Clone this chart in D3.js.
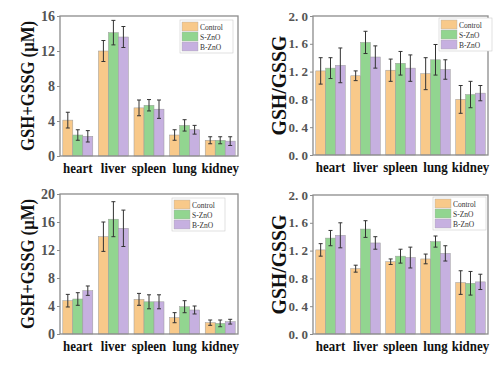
<!DOCTYPE html>
<html>
<head>
<meta charset="utf-8">
<script src="https://cdn.jsdelivr.net/npm/d3@7"></script>
<style>
  body { margin: 0; background: #fff; }
  svg { display: block; }
</style>
</head>
<body>
<div id="chart"></div>
<script>
const organs = ["heart", "liver", "spleen", "lung", "kidney"];
const groups = ["Control", "S-ZnO", "B-ZnO"];
const colors = ["#f8c98a", "#92d590", "#c6b0e0"];

// panel A: GSH+GSSG, top row
const totalA = [[4.1, 12.0, 5.5, 2.4, 1.8], [2.4, 14.1, 5.8, 3.5, 1.8], [2.25, 13.6, 5.35, 3.0, 1.7]];
const totalAErr = [[0.9, 1.2, 0.9, 0.6, 0.4], [0.6, 1.4, 0.65, 0.65, 0.4], [0.65, 1.2, 1.05, 0.5, 0.5]];
// panel B: GSH/GSSG, top row
const ratioB = [[1.21, 1.14, 1.22, 1.17, 0.80], [1.25, 1.62, 1.32, 1.37, 0.87], [1.29, 1.41, 1.25, 1.23, 0.89]];
const ratioBErr = [[0.19, 0.07, 0.16, 0.23, 0.20], [0.15, 0.16, 0.17, 0.22, 0.19], [0.25, 0.16, 0.19, 0.14, 0.11]];
// panel C: GSH+GSSG, bottom row
const totalC = [[4.76, 13.9, 4.95, 2.33, 1.62], [5.0, 16.4, 4.6, 3.9, 1.52], [6.19, 15.1, 4.6, 3.43, 1.76]];
const totalCErr = [[0.9, 2.1, 0.85, 0.72, 0.38], [0.9, 2.5, 1.0, 0.86, 0.48], [0.67, 2.6, 1.0, 0.57, 0.34]];
// panel D: GSH/GSSG, bottom row
const ratioD = [[1.21, 0.94, 1.04, 1.08, 0.74], [1.38, 1.51, 1.12, 1.33, 0.73], [1.42, 1.31, 1.10, 1.16, 0.75]];
const ratioDErr = [[0.09, 0.05, 0.04, 0.07, 0.17], [0.11, 0.12, 0.10, 0.08, 0.17], [0.18, 0.09, 0.15, 0.11, 0.11]];

const ticksTotalA = [0, 4, 8, 12, 16];
const ticksTotalC = [0, 4, 8, 12, 16, 20];
const ticksRatio = [0, 0.4, 0.8, 1.2, 1.6, 2.0];

const svg = d3.select("#chart").append("svg").attr("width", 500).attr("height", 365);

const intFmt = d3.format("d");
const ratioFmt = d => d3.format(".1f")(d).replace(".", ". ");

const panels = [
  { box: [60, 16, 238, 156], vals: totalA, errs: totalAErr, max: 16, ticks: ticksTotalA, fmt: intFmt, tfs: 14, label: "GSH+GSSG (\u03bcM)", lab: [34, 130, 18], leg: [180, 20] },
  { box: [313, 16, 488, 155], vals: ratioB, errs: ratioBErr, max: 2, ticks: ticksRatio, fmt: ratioFmt, tfs: 13, label: "GSH/GSSG", lab: [286, 100, 21], leg: [439, 18] },
  { box: [60, 194, 238, 334], vals: totalC, errs: totalCErr, max: 20, ticks: ticksTotalC, fmt: intFmt, tfs: 14, label: "GSH+GSSG (\u03bcM)", lab: [34, 130, 18], leg: [172, 198] },
  { box: [313, 195, 488, 334], vals: ratioD, errs: ratioDErr, max: 2, ticks: ticksRatio, fmt: ratioFmt, tfs: 13, label: "GSH/GSSG", lab: [286, 100, 21], leg: [433, 197] }
];

panels.forEach(drawPanel);

function drawPanel(p) {
  const [x0, y0, x1, y1] = p.box;
  const g = svg.append("g");

  const x = d3.scaleBand().domain(organs).range([x0, x1]).padding(0);
  const xs = d3.scaleBand().domain(groups).range([0, x.bandwidth()]).paddingInner(0).paddingOuter(0.28);
  const y = d3.scaleLinear().domain([0, p.max]).range([y1, y0]);

  // bars
  groups.forEach((grp, gi) => {
    const data = organs.map((o, oi) => ({ o, v: p.vals[gi][oi], e: p.errs[gi][oi] }));
    g.selectAll(null)
      .data(data)
      .join("rect")
      .attr("x", d => x(d.o) + xs(grp))
      .attr("y", d => y(d.v))
      .attr("width", xs.bandwidth())
      .attr("height", d => y(0) - y(d.v))
      .attr("fill", colors[gi])
      .attr("stroke", "#9a9a9a")
      .attr("stroke-width", 0.5);

    const eg = g.selectAll(null).data(data).join("g")
      .attr("stroke", "#333").attr("stroke-width", 1);
    eg.append("line")
      .attr("x1", d => x(d.o) + xs(grp) + xs.bandwidth() / 2)
      .attr("x2", d => x(d.o) + xs(grp) + xs.bandwidth() / 2)
      .attr("y1", d => y(d.v - d.e))
      .attr("y2", d => y(d.v + d.e));
    [1, -1].forEach(s => {
      eg.append("line")
        .attr("x1", d => x(d.o) + xs(grp) + xs.bandwidth() / 2 - 2)
        .attr("x2", d => x(d.o) + xs(grp) + xs.bandwidth() / 2 + 2)
        .attr("y1", d => y(d.v + s * d.e))
        .attr("y2", d => y(d.v + s * d.e));
    });
  });

  // frame
  g.append("rect")
    .attr("x", x0).attr("y", y0)
    .attr("width", x1 - x0).attr("height", y1 - y0)
    .attr("fill", "none").attr("stroke", "#8c8c8c").attr("stroke-width", 1.3);

  // y axis
  const ya = g.append("g")
    .attr("transform", `translate(${x0},0)`)
    .call(d3.axisLeft(y).tickValues(p.ticks).tickFormat(p.fmt).tickSize(3).tickPadding(2));
  ya.select(".domain").remove();
  ya.selectAll("line").attr("stroke", "#8c8c8c");
  ya.selectAll("text")
    .attr("fill", "#555")
    .style("font-family", "'Liberation Serif', serif")
    .style("font-weight", "bold")
    .style("font-size", p.tfs + "px");

  // x labels, slightly condensed like the original
  g.selectAll(null)
    .data(organs)
    .join("text")
    .attr("x", d => x(d) + x.bandwidth() / 2)
    .attr("y", y1 + 17)
    .attr("text-anchor", "middle")
    .style("font-family", "'Liberation Serif', serif")
    .style("font-weight", "bold")
    .style("font-size", "15px")
    .attr("fill", "#111")
    .text(d => d)
    .each(function () {
      const len = this.getComputedTextLength();
      d3.select(this).attr("textLength", len * 0.86).attr("lengthAdjust", "spacingAndGlyphs");
    });

  // y label
  const [lbx, lbLen, lbSize] = p.lab;
  g.append("text")
    .attr("transform", `translate(${lbx},${(y0 + y1) / 2}) rotate(-90)`)
    .attr("text-anchor", "middle")
    .attr("textLength", lbLen)
    .attr("lengthAdjust", "spacingAndGlyphs")
    .style("font-family", "'Liberation Serif', serif")
    .style("font-weight", "bold")
    .style("font-size", lbSize + "px")
    .attr("fill", "#111")
    .text(p.label);

  // legend
  const [lx0, ly0] = p.leg;
  const lg = g.append("g").attr("transform", `translate(${lx0},${ly0})`);
  lg.append("rect").attr("x", 0).attr("y", 0).attr("width", 53).attr("height", 33)
    .attr("fill", "#fff").attr("stroke", "#ccc").attr("stroke-width", 0.6);
  groups.forEach((grp, gi) => {
    lg.append("rect")
      .attr("x", 2).attr("y", 2 + gi * 10)
      .attr("width", 16).attr("height", 9)
      .attr("fill", colors[gi]).attr("stroke", "#aaa").attr("stroke-width", 0.4);
    lg.append("text")
      .attr("x", 20).attr("y", 9.5 + gi * 10)
      .style("font-family", "'Liberation Serif', serif")
      .style("font-size", "7.5px")
      .attr("fill", "#333")
      .text(grp);
  });
}
</script>
</body>
</html>
